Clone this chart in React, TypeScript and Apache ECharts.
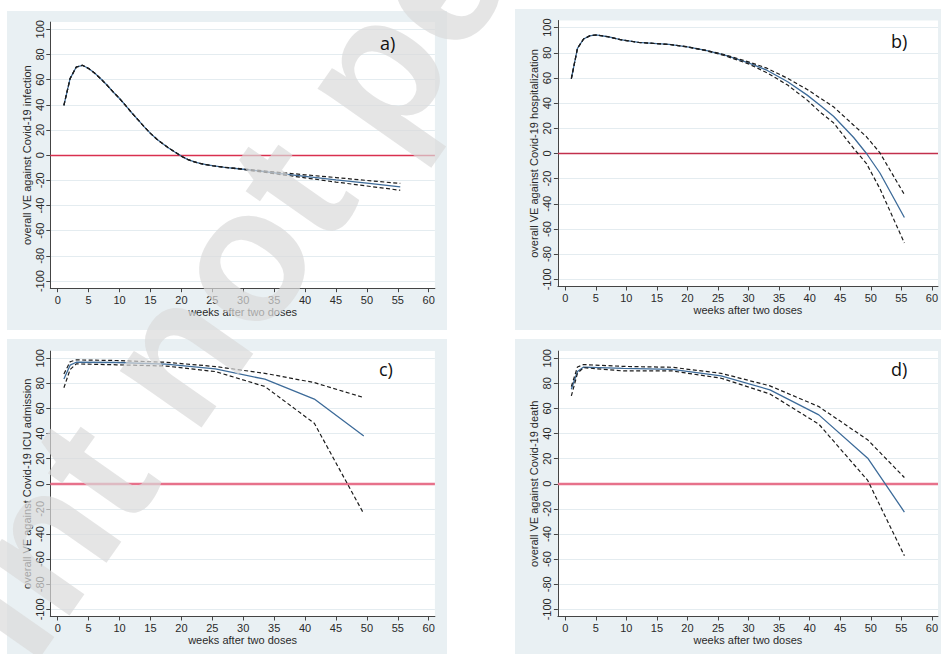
import React, { useEffect, useRef } from "react";
import * as echarts from "echarts";

// ---------- data ----------
const xTickValues = [0, 5, 10, 15, 20, 25, 30, 35, 40, 45, 50, 55, 60];
const yTickValues = [-100, -80, -60, -40, -20, 0, 20, 40, 60, 80, 100];

// a) infection
const weeksA = [1, 2, 3, 4, 5, 6, 7, 8, 9, 10, 11, 12, 13, 14, 15, 16, 17, 18, 19, 20, 21, 22, 23, 24, 25, 27, 30, 33, 36, 40, 45, 50, 55.4];
const centerA = [39.6, 60.8, 70, 71.4, 68.8, 65, 60.5, 55.5, 50, 45, 39.3, 33.5, 28, 22.5, 17.3, 12.8, 9, 5.5, 2.3, -0.8, -3.4, -5.2, -6.6, -7.6, -8.4, -9.7, -11.2, -12.8, -14.6, -16.8, -19.6, -22.3, -25.2];
const upperA = [39.6, 60.8, 70, 71.4, 68.8, 65, 60.5, 55.5, 50, 45, 39.3, 33.5, 28, 22.5, 17.3, 12.8, 9, 5.5, 2.3, -0.8, -3.4, -5.2, -6.6, -7.6, -8.4, -9.6, -10.9, -12.3, -13.8, -15.6, -17.8, -20.1, -22.5];
const lowerA = [39.6, 60.8, 70, 71.4, 68.8, 65, 60.5, 55.5, 50, 45, 39.3, 33.5, 28, 22.5, 17.3, 12.8, 9, 5.5, 2.3, -0.8, -3.4, -5.2, -6.6, -7.6, -8.4, -9.8, -11.5, -13.3, -15.4, -18, -21.4, -24.5, -27.9];

// b) hospitalization
const weeksB = [1, 2, 3, 4, 5, 7, 9, 12, 15, 17, 20, 23, 26, 30, 33, 36.4, 39.6, 41.8, 43.9, 47.2, 49.3, 51.5, 55.5];
const centerB = [59.5, 83.5, 91, 93.5, 94.2, 92.8, 90.5, 88.3, 87.3, 86.7, 84.7, 81.9, 78.3, 72, 66.2, 57, 46.4, 38, 29.6, 12.7, 0, -15.5, -50.9];
const upperB = [59.5, 83.5, 91, 93.5, 94.2, 92.8, 90.5, 88.3, 87.3, 86.7, 84.8, 82.1, 78.7, 72.8, 67.8, 59.7, 50.9, 43.8, 37.1, 22.5, 13.3, 0.5, -32.6];
const lowerB = [59.5, 83.5, 91, 93.5, 94.2, 92.8, 90.5, 88.3, 87.3, 86.7, 84.6, 81.7, 77.9, 71.2, 64.2, 54.4, 42.4, 32.5, 24.4, 4, -8, -28, -71.1];

// c) ICU admission
const weeksC = [1, 2, 3, 9.5, 17.5, 25.5, 33.5, 41.5, 49.5];
const centerC = [83.5, 94.5, 96.8, 96.6, 95.3, 91.5, 83.3, 67.5, 38];
const upperC = [87.5, 97.2, 98.7, 98.2, 96.8, 93.4, 88, 80.6, 68.7];
const lowerC = [76.5, 91, 95.5, 94.8, 93.8, 89.4, 77.5, 48.2, -23.9];

// d) death
const weeksD = [1, 2, 3, 9.5, 17.5, 25.5, 33.5, 41.5, 49.5, 55.5];
const centerD = [75.3, 89.5, 93, 92, 91.2, 85.9, 74.8, 54.9, 20.4, -22.5];
const upperD = [77.5, 93, 95, 93.5, 92.8, 88, 78, 61.5, 35, 5];
const lowerD = [70, 88, 92.5, 89.9, 89.9, 84.1, 71.6, 47.5, 2.7, -57.3];

const yTitles = [
  "overall VE against Covid-19 infection",
  "overall VE against Covid-19 hospitalization",
  "overall VE against Covid-19 ICU admission",
  "overall VE against Covid-19 death",
];
const panelLetters = ["a)", "b)", "c)", "d)"];
const xTitle = "weeks after two doses";
const watermarkText = "Preprint not peer reviewed";

// ---------- layout ----------
const X_MIN = -1.2;
const X_MAX = 61.0;
const Y_MIN = -105.7;
const Y_MAX = 105.7;

const grids = [
  { left: 50.3, top: 22.1, width: 384.6, height: 266.1 },
  { left: 557.9, top: 20.5, width: 384.6, height: 266 },
  { left: 50.3, top: 351.1, width: 384.6, height: 265.4 },
  { left: 557.9, top: 351.1, width: 384.6, height: 265.4 },
];
const bgRects = [
  { x: 7, y: 11, width: 440, height: 319 },
  { x: 515, y: 9, width: 430, height: 321 },
  { x: 7, y: 339, width: 440, height: 320 },
  { x: 515, y: 339, width: 430, height: 320 },
];
const letterPos = [
  { x: 380, y: 43 },
  { x: 891, y: 41 },
  { x: 379, y: 369 },
  { x: 891, y: 369 },
];
const zeroLineStyles = [
  { color: "#d9304f", width: 1.4 },
  { color: "#c2304c", width: 1.3 },
  { color: "#e7718b", width: 2.4 },
  { color: "#e7718b", width: 2.4 },
];

const FONT = "Liberation Sans";
const TEXT_COLOR = "#2a2a2a";

const panels = [
  { weeks: weeksA, center: centerA, upper: upperA, lower: lowerA },
  { weeks: weeksB, center: centerB, upper: upperB, lower: lowerB },
  { weeks: weeksC, center: centerC, upper: upperC, lower: lowerC },
  { weeks: weeksD, center: centerD, upper: upperD, lower: lowerD },
];

function pairs(weeks: number[], vals: number[]) {
  return weeks.map((w, i) => [w, vals[i]]);
}

export default function App() {
  const ref = useRef<HTMLDivElement>(null);

  useEffect(() => {
    if (!ref.current) return;
    const chart = echarts.init(ref.current, undefined, { renderer: "svg" });

    const xAxes = grids.map((_, i) => ({
      type: "value",
      gridIndex: i,
      min: X_MIN,
      max: X_MAX,
      name: xTitle,
      nameLocation: "middle",
      nameGap: 18,
      nameTextStyle: { fontFamily: FONT, fontSize: 11, color: TEXT_COLOR },
      axisLine: { show: true, onZero: false, lineStyle: { color: "#444", width: 1 } },
      axisTick: { show: true, length: 4, customValues: xTickValues, lineStyle: { color: "#444" } },
      axisLabel: {
        show: true,
        customValues: xTickValues,
        margin: 6,
        fontFamily: FONT,
        fontSize: 11,
        color: TEXT_COLOR,
      },
      splitLine: { show: false },
    }));

    const yAxes = grids.map((_, i) => ({
      type: "value",
      gridIndex: i,
      min: Y_MIN,
      max: Y_MAX,
      name: yTitles[i],
      nameLocation: "middle",
      nameGap: 18,
      nameRotate: 90,
      nameTextStyle: { fontFamily: FONT, fontSize: 11, color: TEXT_COLOR },
      axisLine: { show: true, onZero: false, lineStyle: { color: "#444", width: 1 } },
      axisTick: { show: true, length: 4, customValues: yTickValues, lineStyle: { color: "#444" } },
      axisLabel: {
        show: true,
        customValues: yTickValues,
        rotate: 90,
        margin: 5,
        fontFamily: FONT,
        fontSize: 11,
        color: TEXT_COLOR,
      },
      splitLine: { show: true, lineStyle: { color: "#e4ecf0", width: 1 } },
    }));

    const series: any[] = [];
    panels.forEach((p, i) => {
      series.push({
        type: "line",
        xAxisIndex: i,
        yAxisIndex: i,
        data: pairs(p.weeks, p.center),
        showSymbol: false,
        lineStyle: { color: "#3d6b99", width: 1.3 },
        z: 3,
        markLine: {
          silent: true,
          symbol: ["none", "none"],
          label: { show: false },
          lineStyle: { color: zeroLineStyles[i].color, width: zeroLineStyles[i].width, type: "solid", opacity: 1 },
          emphasis: { disabled: true },
          data: [{ yAxis: 0 }],
          z: 1,
        },
      });
      series.push({
        type: "line",
        xAxisIndex: i,
        yAxisIndex: i,
        data: pairs(p.weeks, p.upper),
        showSymbol: false,
        lineStyle: { color: "#1c1c1c", width: 1.2, type: [4, 2.5] },
        z: 4,
      });
      series.push({
        type: "line",
        xAxisIndex: i,
        yAxisIndex: i,
        data: pairs(p.weeks, p.lower),
        showSymbol: false,
        lineStyle: { color: "#1c1c1c", width: 1.2, type: [4, 2.5] },
        z: 4,
      });
    });

    const graphics: any[] = [];
    bgRects.forEach((r) => {
      graphics.push({
        type: "rect",
        shape: { x: r.x, y: r.y, width: r.width, height: r.height },
        style: { fill: "#e9f0f3" },
        z: -10,
        silent: true,
      });
    });
    graphics.push({
      type: "text",
      x: -303,
      y: 1034,
      rotation: 0.96,
      silent: true,
      style: {
        text: watermarkText,
        fontFamily: FONT,
        fontWeight: "bold",
        fontSize: 188,
        fill: "rgba(218,218,218,0.7)",
        textAlign: "left",
        textVerticalAlign: "middle",
        align: "left",
        verticalAlign: "middle",
      },
      z: 100,
    });
    panelLetters.forEach((t, i) => {
      graphics.push({
        type: "text",
        x: letterPos[i].x,
        y: letterPos[i].y,
        style: {
          text: t,
          fontFamily: "Open Sans",
          fontSize: 18,
          fill: "#111",
          textAlign: "left",
          textVerticalAlign: "middle",
          align: "left",
          verticalAlign: "middle",
        },
        z: 120,
      });
    });

    chart.setOption({
      animation: false,
      backgroundColor: "#ffffff",
      grid: grids.map((g) => ({
        ...g,
        show: true,
        backgroundColor: "#ffffff",
        borderWidth: 0,
        containLabel: false,
      })),
      xAxis: xAxes,
      yAxis: yAxes,
      series,
      graphic: graphics,
    });

    return () => chart.dispose();
  }, []);

  return (
    <div
      ref={ref}
      style={{ position: "absolute", left: 0, top: 0, width: 941, height: 654 }}
    />
  );
}
